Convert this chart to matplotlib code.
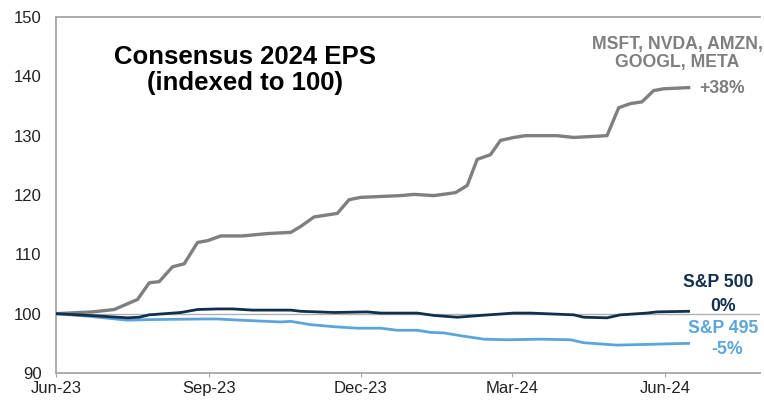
import numpy as np
import pandas as pd
import matplotlib
matplotlib.use("Agg")
import matplotlib.pyplot as plt
import matplotlib.dates as mdates

# values (index, start = 100)
mag5_dates = ["2023-06-01", "2023-06-23", "2023-07-06", "2023-07-20", "2023-07-27",
              "2023-08-02", "2023-08-10", "2023-08-17", "2023-08-25", "2023-08-31",
              "2023-09-08", "2023-09-21", "2023-10-06", "2023-10-20", "2023-10-26",
              "2023-11-03", "2023-11-17", "2023-11-24", "2023-12-01", "2023-12-09",
              "2023-12-25", "2024-01-02", "2024-01-14", "2024-01-27", "2024-02-03",
              "2024-02-09", "2024-02-17", "2024-02-23", "2024-03-02", "2024-03-09",
              "2024-03-28", "2024-04-07", "2024-04-27", "2024-05-04", "2024-05-11",
              "2024-05-18", "2024-05-25", "2024-05-31", "2024-06-15"]
mag5_eps = [100.0, 100.3, 100.7, 102.4, 105.2,
            105.4, 107.9, 108.4, 112.0, 112.3,
            113.1, 113.1, 113.5, 113.7, 114.7,
            116.3, 116.9, 119.2, 119.6, 119.7,
            119.9, 120.1, 119.9, 120.4, 121.6,
            126.0, 126.8, 129.2, 129.7, 130.0,
            130.0, 129.7, 130.0, 134.7, 135.4,
            135.7, 137.6, 137.9, 138.1]

spx_dates = ["2023-06-01", "2023-06-21", "2023-07-14", "2023-07-21", "2023-07-27",
             "2023-08-15", "2023-08-25", "2023-09-06", "2023-09-15", "2023-09-27",
             "2023-10-20", "2023-10-26", "2023-11-15", "2023-12-05", "2023-12-13",
             "2024-01-04", "2024-01-14", "2024-01-28", "2024-02-11", "2024-03-02",
             "2024-03-12", "2024-04-07", "2024-04-13", "2024-04-27", "2024-05-05",
             "2024-05-21", "2024-05-27", "2024-06-15"]
spx_eps = [100.0, 99.7, 99.3, 99.4, 99.8,
           100.2, 100.7, 100.8, 100.8, 100.6,
           100.6, 100.4, 100.2, 100.3, 100.1,
           100.1, 99.7, 99.4, 99.7, 100.1,
           100.1, 99.8, 99.4, 99.3, 99.8,
           100.1, 100.3, 100.4]

s495_dates = ["2023-06-01", "2023-06-21", "2023-07-14", "2023-07-27", "2023-08-27",
              "2023-09-06", "2023-09-20", "2023-10-14", "2023-10-20", "2023-11-01",
              "2023-11-15", "2023-11-29", "2023-12-13", "2023-12-23", "2024-01-04",
              "2024-01-12", "2024-01-20", "2024-02-01", "2024-02-13", "2024-02-27",
              "2024-03-18", "2024-04-05", "2024-04-13", "2024-05-03", "2024-05-25",
              "2024-06-15"]
s495_eps = [100.0, 99.55, 98.9, 99.0, 99.1,
            99.1, 98.9, 98.6, 98.7, 98.15,
            97.8, 97.55, 97.55, 97.2, 97.2,
            96.85, 96.75, 96.2, 95.7, 95.6,
            95.7, 95.6, 95.1, 94.7, 94.85,
            95.0]

tick_dates = ["2023-06-01", "2023-09-01", "2023-12-01", "2024-03-01", "2024-06-01"]

GRAY = "#7f7f7f"
NAVY = "#11304e"
LIGHT = "#5ba5dc"
AXIS = "#a6a6a6"


def main():
    plt.rcParams["font.family"] = ["Liberation Sans", "DejaVu Sans"]

    fig = plt.figure(figsize=(7.64, 4.0), dpi=100)
    ax = fig.add_axes([0.0733, 0.0675, 0.9217, 0.89])

    ax.axhline(100, color="#b0b0b0", lw=1, zorder=1)
    ax.plot(pd.to_datetime(mag5_dates), mag5_eps, c=GRAY, lw=2.4, zorder=2)
    ax.plot(pd.to_datetime(s495_dates), s495_eps, c=LIGHT, lw=2.0, zorder=3)
    ax.plot(pd.to_datetime(spx_dates), spx_eps, c=NAVY, lw=2.0, zorder=4)

    ax.set_ylim(90, 150)
    ax.set_yticks(np.arange(90, 151, 10))
    ax.set_xlim(pd.Timestamp("2023-06-01"), pd.Timestamp("2024-07-28"))
    ax.set_xticks(pd.to_datetime(tick_dates))
    ax.xaxis.set_major_formatter(mdates.DateFormatter("%b-%y"))

    for side in ["left", "top", "bottom"]:
        ax.spines[side].set_color(AXIS)
        ax.spines[side].set_linewidth(1.3)
    ax.spines["right"].set_visible(False)
    ax.tick_params(axis="y", length=0, pad=10.5, labelsize=12, labelcolor="#222222")
    ax.tick_params(axis="x", length=3, color=AXIS, pad=3, labelsize=12, labelcolor="#222222")

    ax.text(0.268, 0.852, "Consensus 2024 EPS\n(indexed to 100)", transform=ax.transAxes,
            ha="center", va="center", fontsize=18.5, fontweight="bold", color="black",
            linespacing=1.12)
    ax.text(0.882, 0.898, "MSFT, NVDA, AMZN,\nGOOGL, META", transform=ax.transAxes,
            ha="center", va="center", fontsize=12.7, fontweight="bold", color=GRAY,
            linespacing=1.06)
    ax.text(0.946, 0.798, "+38%", transform=ax.transAxes, ha="center", va="center",
            fontsize=12.7, fontweight="bold", color=GRAY)
    ax.text(0.94, 0.253, "S&P 500", transform=ax.transAxes, ha="center", va="center",
            fontsize=12.7, fontweight="bold", color=NAVY)
    ax.text(0.947, 0.188, "0%", transform=ax.transAxes, ha="center", va="center",
            fontsize=12.7, fontweight="bold", color=NAVY)
    ax.text(0.947, 0.126, "S&P 495", transform=ax.transAxes, ha="center", va="center",
            fontsize=12.7, fontweight="bold", color=LIGHT)
    ax.text(0.953, 0.065, "-5%", transform=ax.transAxes, ha="center", va="center",
            fontsize=12.7, fontweight="bold", color=LIGHT)

    fig.savefig("out.png", dpi=100)


if __name__ == '__main__':
    main()
